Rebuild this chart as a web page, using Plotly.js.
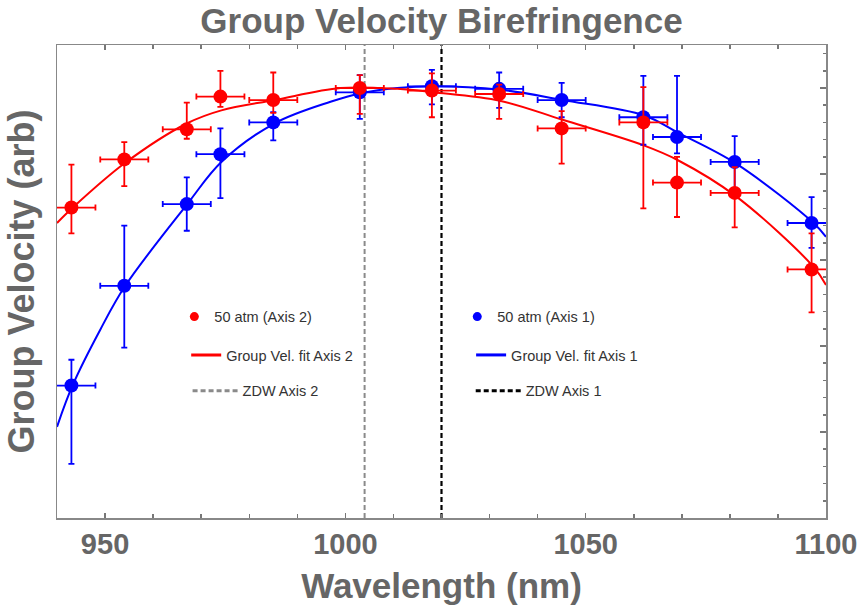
<!DOCTYPE html>
<html>
<head>
<meta charset="utf-8">
<script src="https://cdn.plot.ly/plotly-3.0.1.min.js"></script>
<style>html,body{margin:0;padding:0;background:#fff;}#chart{width:862px;height:611px;}</style>
</head>
<body>
<div id="chart"></div>
<script>
// ---- data ----
const wavelength = [943, 954, 967, 974, 985, 1003, 1018, 1032, 1045, 1062, 1069, 1081, 1097];
const wavelengthErr = 5;

const axis2Vel      = [3.61, 4.17, 4.52, 4.90, 4.86, 5.00, 4.97, 4.93, 4.53, 4.60, 3.90, 3.78, 2.89];
const axis2ErrPlus  = [0.50, 0.20, 0.31, 0.30, 0.32, 0.15, 0.20, 0.11, 0.20, 0.41, 0.30, 0.30, 0.42];
const axis2ErrMinus = [0.30, 0.31, 0.11, 0.12, 0.15, 0.30, 0.31, 0.29, 0.41, 1.00, 0.40, 0.40, 0.50];

const axis1Vel      = [1.54, 2.70, 3.65, 4.23, 4.60, 4.95, 5.02, 4.99, 4.86, 4.66, 4.43, 4.14, 3.43];
const axis1ErrPlus  = [0.30, 0.70, 0.31, 0.30, 0.12, 0.20, 0.19, 0.19, 0.20, 0.48, 0.71, 0.30, 0.30];
const axis1ErrMinus = [0.91, 0.72, 0.31, 0.51, 0.21, 0.31, 0.21, 0.22, 0.20, 0.32, 0.19, 0.34, 0.29];

const fit2X = [940, 943.3, 954.2, 967.1, 974.2, 985.3, 999, 1010.8, 1018.3, 1032.3, 1045.2, 1062.2, 1069.2, 1081.3, 1097.4, 1100];
const fit2Y = [3.43, 3.61, 4.13, 4.59, 4.74, 4.86, 5.00, 4.99, 4.95, 4.85, 4.63, 4.33, 4.16, 3.74, 2.92, 2.71];

const fit1X = [940, 943.3, 949, 954.2, 967.1, 974.2, 985.3, 996.9, 1003.3, 1010.8, 1018.3, 1032.3, 1045.2, 1062.2, 1069.2, 1081.3, 1097.4, 1100];
const fit1Y = [1.06, 1.55, 2.19, 2.70, 3.65, 4.14, 4.59, 4.84, 4.94, 5.00, 5.02, 4.98, 4.86, 4.68, 4.48, 4.12, 3.43, 3.27];

const zdwAxis2 = 1004;
const zdwAxis1 = 1020;

const xRange = [940, 1100];
const yRange = [0, 5.5];

const legendLabels = ['50 atm (Axis 2)', 'Group Vel. fit Axis 2', 'ZDW Axis 2',
                      '50 atm (Axis 1)', 'Group Vel. fit Axis 1', 'ZDW Axis 1'];

// ---- styling ----
const RED = '#ff0000', BLUE = '#0000ff', GRAY = '#8a8a8a', BLACK = '#000000';
const FONT = 'Liberation Sans, Arial, sans-serif';
const TXT = '#666666';

function errY(plus, minus, color) {
  return {type: 'data', symmetric: false, array: plus, arrayminus: minus,
          color: color, thickness: 1.8, width: 3};
}
function errX(color) {
  return {type: 'constant', value: wavelengthErr, color: color, thickness: 1.8, width: 3};
}

const traces = [
  {x: fit1X, y: fit1Y, mode: 'lines', line: {color: BLUE, width: 2, shape: 'spline'}, showlegend: false, hoverinfo: 'skip'},
  {x: fit2X, y: fit2Y, mode: 'lines', line: {color: RED, width: 2, shape: 'spline'}, showlegend: false, hoverinfo: 'skip'},
  {x: wavelength, y: axis1Vel, mode: 'markers', marker: {color: BLUE, size: 14},
   error_x: errX(BLUE), error_y: errY(axis1ErrPlus, axis1ErrMinus, BLUE), showlegend: false},
  {x: wavelength, y: axis2Vel, mode: 'markers', marker: {color: RED, size: 14},
   error_x: errX(RED), error_y: errY(axis2ErrPlus, axis2ErrMinus, RED), showlegend: false},
  // axis carrier for right-hand tick frame
  {x: [null], y: [null], yaxis: 'y2', showlegend: false, hoverinfo: 'skip'},
  // legend entries
  {x: [null], y: [null], mode: 'markers', marker: {color: RED, size: 9}, name: legendLabels[0], legend: 'legend'},
  {x: [null], y: [null], mode: 'lines', line: {color: RED, width: 3}, name: legendLabels[1], legend: 'legend2'},
  {x: [null], y: [null], mode: 'lines', line: {color: GRAY, width: 3, dash: '5px,3px'}, name: legendLabels[2], legend: 'legend3'},
  {x: [null], y: [null], mode: 'markers', marker: {color: BLUE, size: 9}, name: legendLabels[3], legend: 'legend4'},
  {x: [null], y: [null], mode: 'lines', line: {color: BLUE, width: 3}, name: legendLabels[4], legend: 'legend5'},
  {x: [null], y: [null], mode: 'lines', line: {color: BLACK, width: 3, dash: '5px,3px'}, name: legendLabels[5], legend: 'legend6'}
];

function leg(x, y, itemwidth) {
  return {x: x, y: y, xanchor: 'left', yanchor: 'middle', bgcolor: 'rgba(0,0,0,0)',
          borderwidth: 0, itemwidth: itemwidth || 30,
          font: {family: FONT, size: 14.5, color: '#333333'}};
}

const layout = {
  width: 862, height: 611,
  margin: {l: 57, r: 36, t: 45, b: 93, pad: 0},
  paper_bgcolor: '#ffffff', plot_bgcolor: '#ffffff',
  title: {text: 'Group Velocity Birefringence', x: 0.5, xref: 'paper', y: 0.966, yref: 'container', yanchor: 'middle',
          font: {family: FONT, size: 35, color: TXT, weight: 'bold'}},
  xaxis: {
    range: xRange, showgrid: false, zeroline: false,
    showline: true, linecolor: '#888888', linewidth: 1.5, mirror: 'ticks',
    ticks: 'inside', ticklen: 5, tickwidth: 1.5, tickcolor: '#777777',
    tick0: 950, dtick: 50,
    minor: {dtick: 10, ticks: 'inside', ticklen: 4, tickwidth: 1.5, tickcolor: '#777777'},
    tickfont: {family: FONT, size: 29, color: TXT, weight: 'bold'},
    title: {text: 'Wavelength (nm)', font: {family: FONT, size: 35, color: TXT, weight: 'bold'}, standoff: 14}
  },
  yaxis: {
    range: yRange, showgrid: false, zeroline: false,
    showline: true, linecolor: '#888888', linewidth: 1.5, mirror: true,
    ticks: '', showticklabels: false,
    title: {text: 'Group Velocity (arb)', font: {family: FONT, size: 36, color: TXT, weight: 'bold'}, standoff: 10}
  },
  yaxis2: {
    overlaying: 'y', side: 'right', range: yRange, showgrid: false, zeroline: false, showline: false,
    ticks: 'inside', tick0: 0, dtick: 1, ticklen: 6, tickwidth: 1.5, tickcolor: '#777777',
    minor: {dtick: 0.2, ticks: 'inside', ticklen: 3, tickwidth: 1.5, tickcolor: '#777777'},
    showticklabels: false
  },
  shapes: [
    {type: 'line', xref: 'x', yref: 'paper', x0: zdwAxis2, x1: zdwAxis2, y0: 0, y1: 1, layer: 'below',
     line: {color: GRAY, width: 2, dash: '5px,3px'}},
    {type: 'line', xref: 'x', yref: 'paper', x0: zdwAxis1, x1: zdwAxis1, y0: 0, y1: 1, layer: 'below',
     line: {color: BLACK, width: 2.2, dash: '5px,3px'}}
  ],
  legend:  leg(0.1526, 0.4256),
  legend2: leg(0.168, 0.3446),
  legend3: leg(0.1698, 0.2691, 45),
  legend4: leg(0.5205, 0.4256),
  legend5: leg(0.5385, 0.3446),
  legend6: leg(0.538, 0.2691, 45),
  showlegend: true
};

Plotly.newPlot('chart', traces, layout, {displayModeBar: false, staticPlot: true});
</script>
</body>
</html>
